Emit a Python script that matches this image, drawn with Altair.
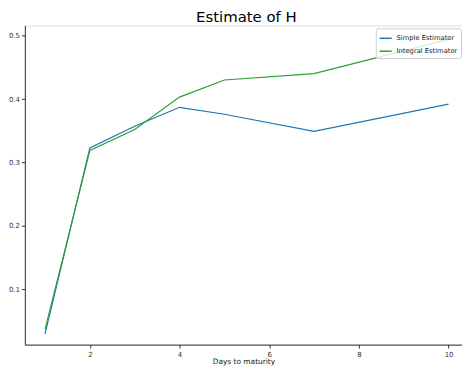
import altair as alt
import pandas as pd

days = [1, 2, 3, 4, 5, 7, 10]
simple_est = [0.030, 0.323, 0.357, 0.387, 0.376, 0.349, 0.392]
integral_est = [0.037, 0.319, 0.352, 0.403, 0.430, 0.440, 0.494]
series_names = ["Simple Estimator", "Integral Estimator"]
colors = ["#1f77b4", "#2ca02c"]

rows = []
for d, s, i in zip(days, simple_est, integral_est):
    rows.append({"days": d, "H": s, "series": series_names[0]})
    rows.append({"days": d, "H": i, "series": series_names[1]})
df = pd.DataFrame(rows)

chart = alt.Chart(df).mark_line(strokeWidth=1.2, clip=True).encode(
    x=alt.X("days:Q", title="Days to maturity",
            scale=alt.Scale(domain=[0.55, 10.3], nice=False, zero=False),
            axis=alt.Axis(values=[2, 4, 6, 8, 10], grid=False, format="d",
                          labelFontSize=7, titleFontSize=7.5, titleFontWeight="normal",
                          titlePadding=1, tickSize=3.5, labelPadding=2,
                          domainColor="#333", tickColor="#333", labelColor="#333", titleColor="#222")),
    y=alt.Y("H:Q", title=None,
            scale=alt.Scale(domain=[0.013, 0.516], nice=False, zero=False),
            axis=alt.Axis(values=[0.1, 0.2, 0.3, 0.4, 0.5], grid=False, format=".1f",
                          labelFontSize=7, tickSize=3.5, labelPadding=2,
                          domainColor="#333", tickColor="#333", labelColor="#333")),
    color=alt.Color("series:N", sort=series_names,
                    scale=alt.Scale(domain=series_names, range=colors),
                    legend=alt.Legend(title=None, orient="none", legendX=354, legendY=3,
                                      symbolType="stroke", symbolSize=150, symbolStrokeWidth=1.5,
                                      labelFontSize=6.8, labelColor="#222", labelOffset=4,
                                      fillColor="rgba(255,255,255,0.8)", strokeColor="#ccc",
                                      padding=3, cornerRadius=2, rowPadding=2)),
).properties(
    width=441, height=322,
    title=alt.TitleParams("Estimate of H", fontSize=15, fontWeight="normal", color="#000",
                          font="DejaVu Sans", anchor="middle", dx=3, offset=0),
    autosize=alt.AutoSizeParams(type="none"),
    padding={"left": 17, "top": 16, "right": 0, "bottom": 21},
).configure_view(stroke=None).configure(font="DejaVu Sans")

chart.save("out.html", embed_options={"renderer": "svg", "actions": False})
